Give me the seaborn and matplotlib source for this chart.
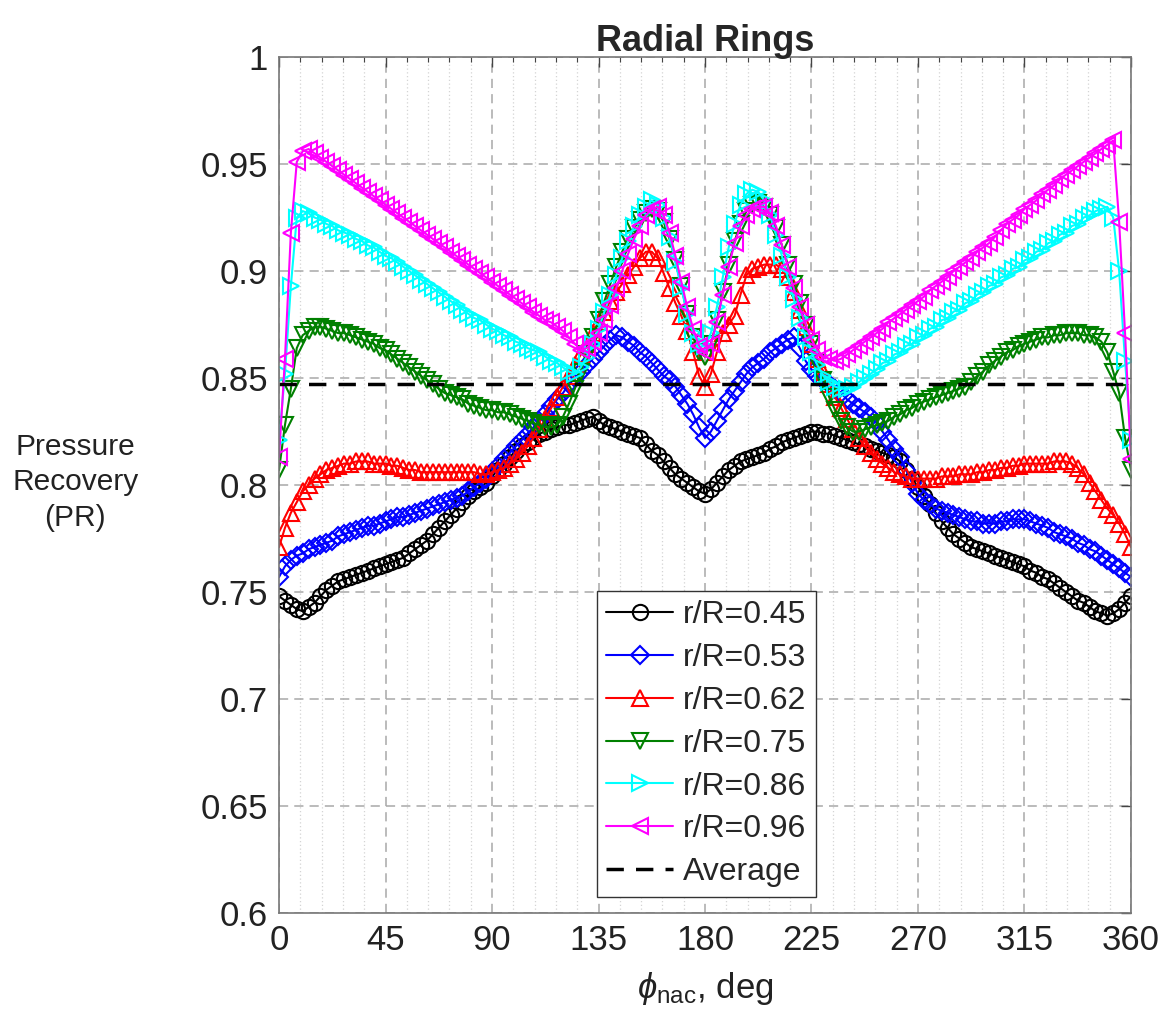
import numpy as np
import pandas as pd
import matplotlib
matplotlib.use("Agg")
import matplotlib.pyplot as plt
from matplotlib.ticker import MultipleLocator, FuncFormatter
import seaborn as sns

# circumferential positions, deg
phi = np.linspace(0, 360, 145)

pr_045 = [
    0.748, 0.746, 0.744, 0.742, 0.741, 0.743, 0.745, 0.748, 0.751, 0.753,
    0.755, 0.756, 0.757, 0.758, 0.759, 0.760, 0.761, 0.762, 0.763, 0.764,
    0.765, 0.766, 0.768, 0.770, 0.772, 0.774, 0.777, 0.780, 0.783, 0.786,
    0.789, 0.792, 0.795, 0.797, 0.799, 0.801, 0.804, 0.807, 0.810, 0.813,
    0.816, 0.818, 0.820, 0.822, 0.824, 0.825, 0.826, 0.827, 0.828, 0.828,
    0.829, 0.830, 0.831, 0.832, 0.830, 0.828, 0.827, 0.826, 0.825, 0.824,
    0.823, 0.822, 0.819, 0.816, 0.814, 0.811, 0.808, 0.805, 0.803, 0.801,
    0.799, 0.797, 0.796, 0.798, 0.801, 0.804, 0.807, 0.809, 0.811, 0.812,
    0.813, 0.814, 0.815, 0.817, 0.818, 0.820, 0.821, 0.822, 0.823, 0.824,
    0.825, 0.825, 0.824, 0.824, 0.823, 0.822, 0.821, 0.820, 0.819, 0.818,
    0.817, 0.816, 0.815, 0.814, 0.813, 0.811, 0.807, 0.803, 0.799, 0.795,
    0.791, 0.787, 0.783, 0.780, 0.777, 0.775, 0.773, 0.771, 0.770, 0.769,
    0.768, 0.767, 0.766, 0.765, 0.764, 0.763, 0.762, 0.760, 0.759, 0.757,
    0.756, 0.754, 0.752, 0.750, 0.748, 0.746, 0.745, 0.743, 0.741, 0.740,
    0.739, 0.740, 0.742, 0.745, 0.748,
]
pr_053 = [
    0.757, 0.762, 0.765, 0.767, 0.768, 0.770, 0.771, 0.772, 0.773, 0.774,
    0.776, 0.777, 0.778, 0.779, 0.780, 0.781, 0.781, 0.782, 0.783, 0.784,
    0.785, 0.785, 0.786, 0.787, 0.788, 0.789, 0.790, 0.791, 0.792, 0.793,
    0.794, 0.795, 0.797, 0.799, 0.801, 0.803, 0.806, 0.809, 0.812, 0.815,
    0.818, 0.821, 0.824, 0.827, 0.830, 0.833, 0.837, 0.840, 0.843, 0.847,
    0.850, 0.853, 0.856, 0.859, 0.862, 0.865, 0.868, 0.870, 0.869, 0.867,
    0.865, 0.862, 0.860, 0.857, 0.854, 0.851, 0.849, 0.846, 0.842, 0.838,
    0.833, 0.827, 0.822, 0.825, 0.830, 0.835, 0.840, 0.844, 0.848, 0.852,
    0.855, 0.857, 0.859, 0.862, 0.864, 0.866, 0.868, 0.869, 0.864, 0.858,
    0.854, 0.851, 0.849, 0.847, 0.845, 0.843, 0.840, 0.838, 0.836, 0.834,
    0.832, 0.829, 0.825, 0.821, 0.817, 0.813, 0.807, 0.801, 0.796, 0.793,
    0.791, 0.789, 0.788, 0.787, 0.786, 0.785, 0.784, 0.783, 0.783, 0.782,
    0.782, 0.782, 0.783, 0.783, 0.784, 0.784, 0.784, 0.783, 0.782, 0.781,
    0.780, 0.778, 0.777, 0.776, 0.775, 0.773, 0.772, 0.770, 0.769, 0.767,
    0.765, 0.763, 0.761, 0.759, 0.757,
]
pr_062 = [
    0.771, 0.780, 0.787, 0.792, 0.797, 0.800, 0.803, 0.805, 0.807, 0.808,
    0.809, 0.810, 0.810, 0.811, 0.811, 0.811, 0.810, 0.810, 0.810, 0.809,
    0.809, 0.808, 0.807, 0.807, 0.806, 0.806, 0.806, 0.806, 0.806, 0.806,
    0.806, 0.806, 0.806, 0.806, 0.805, 0.805, 0.806, 0.807, 0.808, 0.810,
    0.812, 0.815, 0.818, 0.822, 0.826, 0.831, 0.836, 0.841, 0.846, 0.851,
    0.856, 0.861, 0.866, 0.871, 0.876, 0.881, 0.886, 0.890, 0.894, 0.898,
    0.902, 0.906, 0.909, 0.909, 0.906, 0.899, 0.892, 0.885, 0.879, 0.872,
    0.862, 0.851, 0.846, 0.852, 0.862, 0.871, 0.875, 0.879, 0.889, 0.898,
    0.901, 0.902, 0.903, 0.903, 0.903, 0.901, 0.897, 0.890, 0.882, 0.874,
    0.866, 0.859, 0.853, 0.847, 0.841, 0.836, 0.831, 0.826, 0.822, 0.818,
    0.815, 0.812, 0.810, 0.808, 0.806, 0.805, 0.804, 0.803, 0.803, 0.803,
    0.803, 0.803, 0.804, 0.804, 0.804, 0.805, 0.805, 0.805, 0.806, 0.806,
    0.807, 0.807, 0.808, 0.808, 0.809, 0.809, 0.810, 0.810, 0.810, 0.810,
    0.810, 0.811, 0.811, 0.811, 0.810, 0.808, 0.805, 0.801, 0.797, 0.793,
    0.789, 0.786, 0.782, 0.777, 0.771,
]
pr_075 = [
    0.807, 0.828, 0.845, 0.864, 0.870, 0.872, 0.874, 0.874, 0.873, 0.872,
    0.871, 0.871, 0.870, 0.869, 0.868, 0.867, 0.866, 0.864, 0.863, 0.861,
    0.859, 0.857, 0.855, 0.853, 0.851, 0.849, 0.847, 0.845, 0.843, 0.842,
    0.841, 0.840, 0.838, 0.837, 0.836, 0.835, 0.835, 0.834, 0.834, 0.833,
    0.832, 0.831, 0.830, 0.829, 0.828, 0.827, 0.827, 0.828, 0.832, 0.838,
    0.845, 0.853, 0.861, 0.869, 0.877, 0.886, 0.894, 0.902, 0.909, 0.915,
    0.920, 0.924, 0.927, 0.929, 0.928, 0.923, 0.915, 0.905, 0.893, 0.880,
    0.869, 0.862, 0.860, 0.866, 0.877, 0.890, 0.903, 0.914, 0.922, 0.928,
    0.931, 0.932, 0.930, 0.926, 0.920, 0.912, 0.903, 0.894, 0.885, 0.875,
    0.866, 0.857, 0.849, 0.841, 0.835, 0.830, 0.827, 0.825, 0.825, 0.826,
    0.827, 0.828, 0.829, 0.830, 0.832, 0.833, 0.835, 0.836, 0.838, 0.839,
    0.840, 0.841, 0.842, 0.843, 0.844, 0.845, 0.846, 0.848, 0.851, 0.853,
    0.856, 0.858, 0.860, 0.862, 0.863, 0.865, 0.866, 0.867, 0.868, 0.869,
    0.869, 0.870, 0.870, 0.871, 0.871, 0.871, 0.870, 0.870, 0.869, 0.867,
    0.862, 0.853, 0.843, 0.822, 0.807,
]
pr_086 = [
    0.821, 0.852, 0.893, 0.925, 0.928, 0.927, 0.925, 0.924, 0.922, 0.921,
    0.919, 0.918, 0.917, 0.915, 0.914, 0.912, 0.911, 0.909, 0.907, 0.906,
    0.904, 0.902, 0.900, 0.898, 0.896, 0.894, 0.892, 0.890, 0.888, 0.886,
    0.884, 0.882, 0.880, 0.878, 0.877, 0.875, 0.873, 0.872, 0.870, 0.869,
    0.867, 0.866, 0.864, 0.863, 0.862, 0.860, 0.858, 0.857, 0.855, 0.853,
    0.852, 0.855, 0.860, 0.866, 0.873, 0.881, 0.889, 0.898, 0.906, 0.914,
    0.921, 0.926, 0.930, 0.933, 0.931, 0.925, 0.916, 0.904, 0.892, 0.880,
    0.871, 0.866, 0.865, 0.871, 0.883, 0.897, 0.911, 0.922, 0.931, 0.936,
    0.938, 0.937, 0.933, 0.926, 0.917, 0.907, 0.897, 0.887, 0.878, 0.869,
    0.862, 0.856, 0.851, 0.848, 0.846, 0.845, 0.845, 0.846, 0.848, 0.850,
    0.852, 0.854, 0.857, 0.858, 0.861, 0.862, 0.865, 0.866, 0.869, 0.870,
    0.873, 0.874, 0.877, 0.878, 0.881, 0.882, 0.885, 0.886, 0.889, 0.890,
    0.893, 0.894, 0.897, 0.898, 0.901, 0.902, 0.905, 0.906, 0.909, 0.910,
    0.913, 0.914, 0.917, 0.918, 0.921, 0.922, 0.925, 0.926, 0.928, 0.929,
    0.930, 0.925, 0.900, 0.858, 0.821,
]
pr_096 = [
    0.813, 0.859, 0.918, 0.951, 0.956, 0.957, 0.955, 0.953, 0.951, 0.949,
    0.947, 0.945, 0.943, 0.941, 0.939, 0.937, 0.935, 0.933, 0.931, 0.929,
    0.927, 0.925, 0.923, 0.921, 0.919, 0.917, 0.915, 0.913, 0.911, 0.909,
    0.907, 0.905, 0.903, 0.901, 0.899, 0.897, 0.895, 0.893, 0.891, 0.889,
    0.887, 0.885, 0.883, 0.881, 0.879, 0.877, 0.876, 0.874, 0.872, 0.869,
    0.866, 0.863, 0.864, 0.867, 0.871, 0.877, 0.884, 0.892, 0.900, 0.908,
    0.915, 0.921, 0.926, 0.929, 0.930, 0.926, 0.918, 0.907, 0.895, 0.883,
    0.873, 0.865, 0.862, 0.866, 0.876, 0.889, 0.902, 0.913, 0.921, 0.926,
    0.929, 0.930, 0.930, 0.927, 0.921, 0.912, 0.902, 0.892, 0.883, 0.875,
    0.868, 0.863, 0.860, 0.859, 0.858, 0.859, 0.861, 0.863, 0.865, 0.867,
    0.869, 0.871, 0.873, 0.876, 0.878, 0.880, 0.882, 0.884, 0.886, 0.888,
    0.891, 0.893, 0.895, 0.897, 0.900, 0.902, 0.904, 0.906, 0.909, 0.911,
    0.913, 0.916, 0.919, 0.922, 0.924, 0.926, 0.929, 0.931, 0.933, 0.936,
    0.938, 0.940, 0.943, 0.945, 0.947, 0.949, 0.951, 0.953, 0.955, 0.957,
    0.959, 0.961, 0.923, 0.871, 0.812,
]
pr_avg = 0.847

labels = ["r/R=0.45", "r/R=0.53", "r/R=0.62", "r/R=0.75", "r/R=0.86", "r/R=0.96"]
colors = ["#000000", "#0000ff", "#ff0000", "#008000", "#00ffff", "#ff00ff"]
markers = ["o", "D", "^", "v", ">", "<"]
msizes = [11, 9.5, 12, 12, 12, 12]

df = pd.DataFrame({"phi": phi})
for lab, vals in zip(labels, [pr_045, pr_053, pr_062, pr_075, pr_086, pr_096]):
    df[lab] = vals

sns.set_style("white")
plt.rcParams["font.family"] = ["Liberation Sans", "DejaVu Sans"]
plt.rcParams["mathtext.fontset"] = "custom"
plt.rcParams["mathtext.rm"] = "Liberation Sans"
plt.rcParams["mathtext.it"] = "Liberation Sans:italic"

fig = plt.figure(figsize=(11.68, 10.24), dpi=100)
ax = fig.add_axes([0.2389, 0.1084, 0.7294, 0.8359])

for lab, c, m, ms in zip(labels, colors, markers, msizes):
    sns.lineplot(data=df, x="phi", y=lab, ax=ax, color=c, label=lab,
                 marker=m, markersize=ms, markerfacecolor="none",
                 markeredgecolor=c, markeredgewidth=1.5, linewidth=1.5,
                 estimator=None)

ax.axhline(pr_avg, color="black", linewidth=2.5, linestyle=(0, (5, 3.5)),
           label="Average")

ax.set_xlim(0, 360)
ax.set_ylim(0.6, 1.0)
ax.xaxis.set_major_locator(MultipleLocator(45))
ax.xaxis.set_minor_locator(MultipleLocator(9))
ax.yaxis.set_major_locator(MultipleLocator(0.05))
ax.yaxis.set_major_formatter(FuncFormatter(lambda v, p: f"{v:g}"))

ax.grid(which="major", color="#a8a8a8", linestyle=(0, (6, 4)), linewidth=1.1)
ax.grid(which="minor", axis="x", color="#d4d4d4", linestyle=(0, (1, 2)), linewidth=0.9)
ax.set_axisbelow(True)

ax.tick_params(which="both", direction="in", top=True, right=True,
               color="#444444", labelsize=25, labelcolor="#222222")
ax.tick_params(which="major", length=7, width=1, pad=8)
ax.tick_params(which="minor", length=3.5, width=0.8)
for s in ax.spines.values():
    s.set_color("#777777")
    s.set_linewidth(1.2)

ax.set_title("Radial Rings", fontsize=26, fontweight="bold", pad=4)
ax.set_xlabel(r"$\phi_{\mathrm{nac}}$, deg", fontsize=25, color="#222222", labelpad=9)
ax.set_ylabel("Pressure\nRecovery\n(PR)", fontsize=21.5, rotation=0,
              ha="center", va="center", multialignment="center", color="#222222",
              linespacing=1.35)
ax.yaxis.set_label_coords(-0.239, 0.503)

leg = ax.legend(loc="lower left", bbox_to_anchor=(0.373, 0.019), fontsize=23,
                frameon=True, fancybox=False, framealpha=1, edgecolor="#333333",
                handlelength=2.1, handletextpad=0.3, labelspacing=0.4,
                borderpad=0.3, borderaxespad=0)
leg.get_frame().set_linewidth(1.0)

fig.savefig("out.png", dpi=100)
